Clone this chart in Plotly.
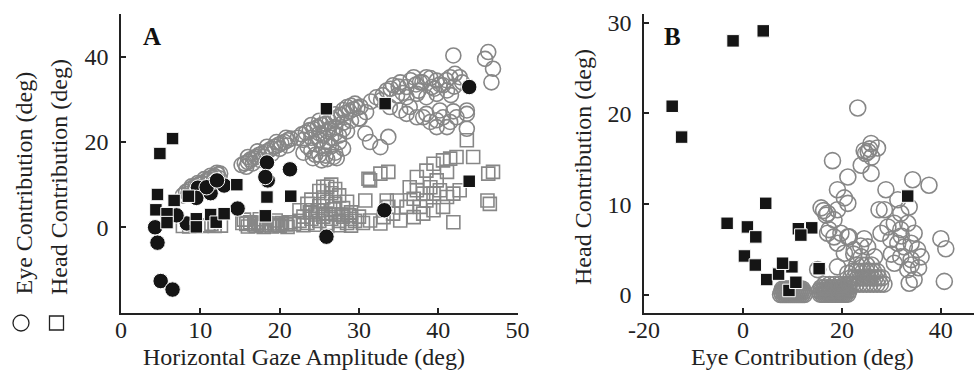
import plotly.graph_objects as go

# ---------------- Panel A data (Horizontal gaze amplitude vs contributions) ----------------
a_eye_gray_x = [7.8, 8.2, 8.6, 9.0, 9.4, 9.8, 10.2, 10.6, 11.0, 11.4, 11.8, 12.2, 12.5, 8.5, 9.3, 10.1, 10.9, 11.7, 12.4,
                8.9, 9.7, 10.5, 11.3, 12.1,
                15.2, 15.6, 16.0, 16.3, 16.7, 17.0, 17.4, 17.8, 18.2, 18.6, 19.0, 19.4, 19.8, 20.2, 20.6, 21.0, 21.4,
                15.8, 16.6, 17.5, 18.0, 19.0, 20.0, 21.0, 16.0, 17.2, 18.4, 19.6, 20.8,
                22.3, 22.8, 23.3, 23.8, 24.3, 24.8, 25.3, 25.8, 26.3, 26.8, 27.3, 27.8, 28.3, 28.8, 29.3, 29.8, 30.2,
                23.0, 24.0, 25.0, 26.0, 27.0, 28.0, 29.0, 30.0, 24.5, 25.5, 26.5, 27.5, 25.0, 26.0, 27.0, 28.0, 25.3, 26.8,
                23.5, 24.0, 24.5, 25.0, 25.5, 26.0, 26.5, 27.0, 27.5, 28.0, 28.5, 24.2, 25.8, 27.2, 23.0, 26.2,
                24.0, 25.0, 26.0, 27.0, 28.0, 29.0, 29.5, 28.5,
                30.8, 31.4, 32.7, 33.7, 30.1, 30.9,
                32.2, 33.5, 34.3, 35.2, 36.0, 36.9, 37.7, 38.5, 39.2, 39.8, 40.6, 41.5, 42.1, 42.7,
                34.8, 36.0, 37.3, 38.5, 39.8, 41.1, 33.9, 35.2, 36.4, 31.5, 32.8,
                33.0, 34.0, 35.0, 36.5, 37.2, 38.0, 39.0, 40.2, 41.0, 42.0, 35.5, 37.5, 39.5, 41.6, 43.0,
                38.1, 39.0, 39.8, 40.6, 41.5, 42.3, 43.6, 43.6, 41.1, 39.8, 40.2, 41.9, 43.6, 38.5, 37.3, 36.0,
                41.9, 46.3, 45.9, 46.9, 46.7]
a_eye_gray_y = [7.5, 8.3, 8.8, 9.2, 9.6, 10.0, 10.3, 10.8, 11.2, 11.6, 12.0, 12.4, 12.6, 7.8, 8.6, 9.4, 10.2, 10.8, 11.5,
                9.6, 10.4, 11.3, 12.1, 12.8,
                14.6, 15.0, 15.3, 15.9, 16.2, 16.5, 17.0, 17.3, 17.6, 18.0, 18.5, 18.9, 19.3, 19.7, 20.0, 20.4, 20.8,
                14.2, 15.0, 15.8, 16.5, 17.2, 18.4, 19.2, 16.5, 17.8, 18.9, 20.0, 21.0,
                21.0, 21.8, 22.2, 22.8, 23.0, 23.5, 24.0, 24.3, 24.8, 25.3, 25.8, 26.3, 26.8, 27.2, 27.7, 28.0, 28.3,
                20.5, 21.0, 22.0, 22.5, 23.5, 24.5, 25.0, 25.5, 19.5, 18.5, 19.0, 20.0, 17.0, 16.0, 17.5, 18.5, 15.7, 16.5,
                19.0, 18.0, 17.0, 20.5, 21.5, 20.0, 21.0, 22.0, 21.5, 23.0, 22.5, 16.2, 16.8, 16.2, 17.5, 23.0,
                24.0, 25.0, 25.8, 26.5, 27.5, 28.5, 29.0, 28.2,
                22.0, 20.0, 18.8, 21.2, 25.5, 27.0,
                30.5, 32.1, 33.3, 34.0, 32.9, 35.2, 34.0, 35.2, 32.9, 34.4, 33.3, 35.2, 36.0, 35.2,
                30.9, 30.5, 31.3, 30.5, 31.3, 32.1, 28.2, 27.4, 28.2, 29.5, 29.8,
                31.0, 32.5, 33.0, 34.5, 33.5, 34.0, 35.0, 33.5, 34.5, 33.0, 31.5, 32.0, 32.5, 31.0, 34.0,
                25.8, 24.7, 25.1, 25.8, 24.7, 25.8, 26.6, 23.1, 23.5, 23.5, 27.4, 27.2, 27.4, 26.6, 25.8, 26.6,
                40.3, 41.1, 39.5, 37.2, 34.0]

a_head_gray_x = [7.8, 8.6, 9.4, 10.2, 11.0, 11.8, 12.6, 9.0, 11.4,
                 15.3, 15.8, 16.3, 16.8, 17.3, 17.8, 18.3, 18.8, 19.3, 19.8, 20.3, 20.8, 21.3, 21.8,
                 16.0, 17.0, 18.0, 19.0, 20.0, 21.0, 15.5, 17.5, 19.5,
                 22.5, 23.0, 23.5, 24.0, 24.5, 25.0, 25.5, 26.0, 26.5, 27.0, 27.5, 28.0, 28.5, 29.0, 29.5, 30.0, 30.5,
                 23.0, 24.5, 26.0, 27.5, 29.0, 24.0, 25.0, 26.0, 27.0, 25.5, 26.5, 27.0, 25.0, 24.0, 28.0, 29.0, 23.5,
                 26.0, 27.5, 28.5, 22.5, 25.5, 26.5, 23.8, 24.8, 25.8, 26.8, 27.8, 28.8,
                 30.8, 31.2, 32.7, 33.7, 31.4, 32.7, 34.8, 34.3, 35.2, 36.0, 36.9, 37.3, 36.4, 37.7, 38.5, 39.4, 39.0,
                 40.2, 41.1, 41.9, 42.7, 39.8, 38.5, 39.4, 40.6, 41.5, 42.3, 41.1, 41.9, 36.9, 38.1, 39.4, 40.6, 33.7,
                 33.1, 33.5, 38.1, 37.3, 46.2, 46.5, 46.3, 46.9, 43.6, 44.4, 31.4]
a_head_gray_y = [0.3, 0.2, 0.4, 0.3, 0.5, 0.3, 0.4, 0.9, 0.8,
                 1.0, 0.8, 1.2, 0.7, 1.1, 0.6, 1.0, 0.5, 0.9, 0.6, 1.0, 0.7, 1.2, 0.8,
                 0.2, 0.3, 0.1, 0.2, 0.3, 0.1, 1.8, 1.9, 1.6,
                 1.5, 2.5, 1.0, 2.0, 3.0, 1.5, 2.5, 1.0, 2.0, 3.0, 1.5, 2.5, 1.0, 2.0, 1.5, 2.5, 1.0,
                 0.5, 0.6, 0.3, 0.5, 0.4, 4.0, 5.0, 6.0, 5.5, 7.0, 8.0, 9.0, 8.5, 6.5, 4.5, 3.5, 5.5,
                 9.5, 7.5, 6.0, 4.0, 9.5, 10.0, 3.5, 4.0, 3.2, 4.2, 3.0, 2.8,
                 6.3, 11.4, 12.6, 13.0, 1.6, 0.9, 6.3, 3.2, 1.6, 4.8, 6.7, 8.7, 9.4, 4.8, 6.3, 7.9, 9.4,
                 8.7, 7.1, 7.9, 8.7, 11.0, 13.3, 14.9, 15.7, 16.1, 16.5, 13.0, 1.2, 2.4, 3.2, 4.0, 4.8, 4.8,
                 2.4, 6.3, 7.9, 11.8, 6.3, 5.5, 12.6, 13.0, 20.4, 16.5, 11.0]

a_eye_black_x = [4.3, 4.6, 5.0, 6.5, 9.7, 9.5, 8.3, 7.0, 11.3, 11.9, 13.0, 14.7, 18.4, 18.5, 18.2, 21.3, 25.9, 33.2, 43.9,
                 10.8, 12.1]
a_eye_black_y = [0.0, -3.6, -12.6, -14.6, 9.3, 6.9, 0.9, 2.8, 8.0, 10.8, 9.8, 4.4, 15.2, 11.0, 11.8, 13.6, -2.2, 4.0, 32.9,
                 9.4, 11.0]

a_head_black_x = [4.6, 4.4, 4.9, 6.5, 5.8, 5.8, 6.7, 8.5, 9.5, 9.5, 11.3, 12.0, 13.0, 14.6, 18.2, 18.4, 21.4, 25.9, 33.3, 43.9]
a_head_black_y = [7.7, 4.1, 17.3, 20.8, 3.2, 1.1, 6.3, 7.3, 2.0, 0.1, 3.0, 1.2, 3.2, 10.0, 2.7, 7.1, 7.3, 27.8, 29.0, 10.8]

# ---------------- Panel B data (Eye contribution vs head contribution) ----------------
b_gray_x = [7.6, 8.0, 8.4, 8.8, 9.2, 9.6, 10.0, 10.4, 10.8, 11.2, 11.6, 12.0, 12.4,
            7.8, 8.2, 8.6, 9.0, 9.4, 9.8, 10.2, 10.6, 11.0, 11.4, 11.8, 12.2,
            8.0, 8.4, 8.8, 9.2, 9.6, 10.0, 10.4, 10.8, 11.2, 11.6, 12.0,
            15.6, 16.0, 16.4, 16.8, 17.2, 17.6, 18.0, 18.4, 18.8, 19.2, 19.6, 20.0, 20.4, 20.8, 21.2,
            15.4, 15.8, 16.2, 16.6, 17.0, 17.4, 17.8, 18.2, 18.6, 19.0, 19.4, 19.8, 20.2, 20.6, 21.0, 21.4,
            15.8, 16.4, 17.0, 17.6, 18.2, 18.8, 19.4, 20.0, 20.6, 21.2,
            16.5, 17.5, 18.5, 19.5, 20.5, 21.5,
            21.5, 22.2, 22.9, 23.6, 24.3, 25.0, 25.7, 26.4, 27.1, 27.8, 28.5,
            21.8, 22.5, 23.2, 23.9, 24.6, 25.3, 26.0, 26.7, 27.4, 28.1,
            22.2, 22.9, 23.6, 24.3, 25.0, 25.7, 26.4, 27.1,
            23.0, 24.0, 25.0, 26.0,
            23.2, 25.9, 24.8, 27.2, 25.3, 26.0, 24.5, 25.6, 23.9, 25.9, 18.1, 21.2, 19.1, 20.5,
            15.8, 16.3, 16.8, 18.4, 17.4, 18.4, 19.8, 21.5, 24.5, 23.8, 22.4, 28.9, 31.3, 27.5, 34.3, 37.6, 33.6,
            17.1, 19.1, 21.2, 22.5, 23.9, 25.2, 20.5, 19.1, 21.2, 26.6, 15.1,
            29.3, 30.6, 31.9, 33.3, 34.6, 29.9, 31.3, 32.6, 34.0, 35.3, 31.9, 34.0, 36.0, 30.6, 33.3, 34.6,
            28.6, 27.9, 31.9, 40.0, 41.0, 40.7, 33.6, 34.0, 17.1, 19.1, 21.2, 35.5, 32.0, 30.0]
b_gray_y = [0.05, 0.05, 0.05, 0.05, 0.05, 0.05, 0.05, 0.05, 0.05, 0.05, 0.05, 0.05, 0.05,
            0.35, 0.35, 0.35, 0.35, 0.35, 0.35, 0.35, 0.35, 0.35, 0.35, 0.35, 0.35,
            0.65, 0.65, 0.65, 0.65, 0.65, 0.65, 0.65, 0.65, 0.65, 0.65, 0.65,
            0.1, 0.1, 0.1, 0.1, 0.1, 0.1, 0.1, 0.1, 0.1, 0.1, 0.1, 0.1, 0.1, 0.1, 0.1,
            0.45, 0.45, 0.45, 0.45, 0.45, 0.45, 0.45, 0.45, 0.45, 0.45, 0.45, 0.45, 0.45, 0.45, 0.45, 0.45,
            0.8, 0.8, 0.8, 0.8, 0.8, 0.8, 0.8, 0.8, 0.8, 0.8,
            1.15, 1.15, 1.15, 1.15, 1.15, 1.15,
            1.2, 1.2, 1.2, 1.2, 1.2, 1.2, 1.2, 1.2, 1.2, 1.2, 1.2,
            1.9, 1.9, 1.9, 1.9, 1.9, 1.9, 1.9, 1.9, 1.9, 1.9,
            2.6, 2.6, 2.6, 2.6, 2.6, 2.6, 2.6, 2.6,
            3.3, 3.3, 3.3, 3.3,
            20.6, 16.7, 15.6, 16.2, 15.8, 15.2, 15.9, 16.1, 14.3, 13.4, 14.8, 13.0, 11.6, 10.7,
            9.6, 9.3, 8.8, 8.3, 7.2, 6.4, 6.8, 6.4, 6.2, 5.4, 4.5, 11.6, 10.5, 9.4, 12.7, 12.1, 9.7,
            6.8, 5.7, 6.4, 5.0, 4.2, 5.3, 4.6, 3.1, 2.4, 4.2, 2.8,
            7.5, 7.9, 7.2, 7.9, 6.8, 6.1, 5.7, 5.3, 5.7, 5.0, 4.2, 3.9, 4.2, 3.5, 2.8, 1.7,
            9.4, 6.8, 9.0, 6.2, 5.1, 1.5, 1.3, 3.3, 9.0, 9.4, 10.1, 3.0, 6.5, 4.5]

b_black_x = [-14.3, -12.4, -2.0, 4.1, 4.6, -3.2, 0.9, 2.6, 0.3, 2.5, 4.8, 7.2, 9.9, 9.3, 10.7, 11.2, 13.9, 15.4, 33.3, 11.7, 8.0]
b_black_y = [20.8, 17.4, 28.0, 29.1, 10.1, 7.9, 7.5, 6.4, 4.3, 3.3, 1.7, 2.3, 3.1, 0.5, 1.4, 7.3, 7.4, 2.9, 10.9, 6.6, 3.5]

# tick values / labels
a_x_ticks = [0, 10, 20, 30, 40, 50]
a_y_ticks = [0, 20, 40]
b_x_ticks = [-20, 0, 20, 40]
b_x_ticklabels = ["-20", "0", "20", "40"]
b_y_ticks = [0, 10, 20, 30]

GRAY = "#878787"
BLACK = "#151515"
FONT = "Liberation Serif"
W, H = 974, 370

fig = go.Figure()

# Panel A
fig.add_trace(go.Scatter(x=a_eye_gray_x, y=a_eye_gray_y, mode="markers", xaxis="x", yaxis="y",
                         marker=dict(symbol="circle-open", size=15, color=GRAY, line=dict(width=1.6, color=GRAY))))
fig.add_trace(go.Scatter(x=a_head_gray_x, y=a_head_gray_y, mode="markers", xaxis="x", yaxis="y",
                         marker=dict(symbol="square-open", size=13, color=GRAY, line=dict(width=1.6, color=GRAY))))
fig.add_trace(go.Scatter(x=a_eye_black_x, y=a_eye_black_y, mode="markers", xaxis="x", yaxis="y",
                         marker=dict(symbol="circle", size=15.5, color=BLACK, line=dict(width=1, color="white"))))
fig.add_trace(go.Scatter(x=a_head_black_x, y=a_head_black_y, mode="markers", xaxis="x", yaxis="y",
                         marker=dict(symbol="square", size=12.5, color=BLACK, line=dict(width=1, color="white"))))

# Panel B
fig.add_trace(go.Scatter(x=b_gray_x, y=b_gray_y, mode="markers", xaxis="x2", yaxis="y2",
                         marker=dict(symbol="circle-open", size=16, color=GRAY, line=dict(width=1.6, color=GRAY))))
fig.add_trace(go.Scatter(x=b_black_x, y=b_black_y, mode="markers", xaxis="x2", yaxis="y2",
                         marker=dict(symbol="square", size=12.5, color=BLACK, line=dict(width=1, color="white"))))

ydom = [1 - 312.6 / H, 1 - 14.1 / H]
axis_common = dict(showline=True, linecolor="#222", linewidth=1.5, ticks="inside", ticklen=5, tickwidth=1.5,
                   tickcolor="#222", showgrid=False, zeroline=False, automargin=False,
                   tickfont=dict(family=FONT, size=24, color="#222"))
xaxis_extra = dict(ticklabelstandoff=-5)
yaxis_extra = dict(ticklabelstandoff=6)

fig.update_layout(
    width=W, height=H,
    margin=dict(l=0, r=0, t=0, b=0, autoexpand=False),
    paper_bgcolor="white", plot_bgcolor="white",
    showlegend=False,
    xaxis=dict(domain=[121 / W, 517.6 / W], range=[0, 50], anchor="y", tickvals=a_x_ticks, **axis_common, **xaxis_extra),
    yaxis=dict(domain=ydom, range=[-20, 50], anchor="x", tickvals=a_y_ticks, **axis_common, **yaxis_extra),
    xaxis2=dict(domain=[644 / W, 1.0], range=[-20, 46.7], anchor="y2", tickvals=b_x_ticks, ticktext=b_x_ticklabels,
                **axis_common, **xaxis_extra),
    yaxis2=dict(domain=ydom, range=[-1.94, 30.95], anchor="x2", tickvals=b_y_ticks, **axis_common, **yaxis_extra),
)


def px(x):
    return x / W


def py(y):
    return 1 - y / H


tfont = dict(family=FONT, size=24, color="#222")
ann = [
    dict(text="Horizontal Gaze Amplitude (deg)", x=px(304), y=py(357), xanchor="center", yanchor="middle"),
    dict(text="Eye Contribution (deg)", x=px(802), y=py(357), xanchor="center", yanchor="middle"),
    dict(text="Head Contribution (deg)", x=px(583), y=py(167), xanchor="center", yanchor="middle", textangle=-90),
    dict(text="Eye Contribution (deg)", x=px(23), y=py(297), xanchor="center", yanchor="bottom", textangle=-90),
    dict(text="Head Contribution (deg)", x=px(59), y=py(297), xanchor="center", yanchor="bottom", textangle=-90),
]
for a in ann:
    a["xref"] = "paper"
    a["yref"] = "paper"
    a["showarrow"] = False
    a["font"] = tfont
    fig.add_annotation(**a)

fig.add_annotation(text="<b>A</b>", x=px(152), y=py(37), xref="paper", yref="paper", showarrow=False,
                   xanchor="center", yanchor="middle", font=dict(family=FONT, size=25, color="#111"))
fig.add_annotation(text="<b>B</b>", x=px(672), y=py(37), xref="paper", yref="paper", showarrow=False,
                   xanchor="center", yanchor="middle", font=dict(family=FONT, size=25, color="#111"))

# legend symbols below the A y-axis titles
fig.add_shape(type="circle", xref="paper", yref="paper", x0=px(13), x1=px(29), y0=py(331), y1=py(315),
              line=dict(color="#222", width=1.3))
fig.add_shape(type="rect", xref="paper", yref="paper", x0=px(49.5), x1=px(63.5), y0=py(330), y1=py(316),
              line=dict(color="#222", width=1.3))

fig.write_html("out.html")
